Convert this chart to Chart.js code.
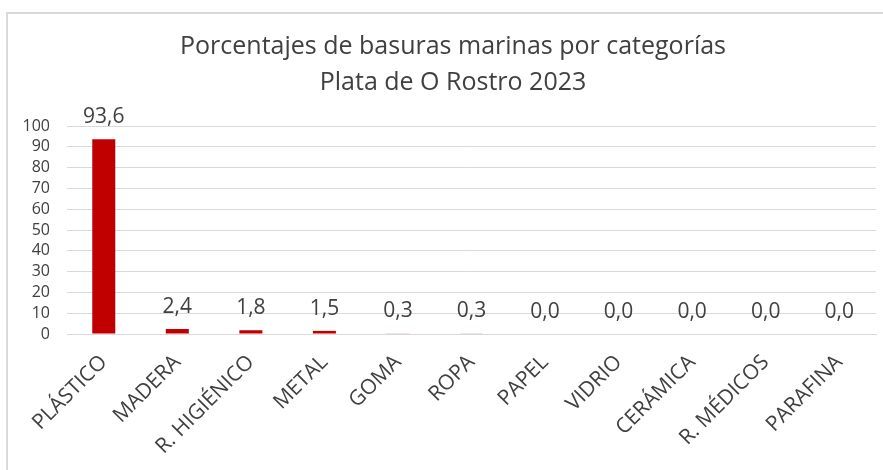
<!DOCTYPE html>
<html>
<head>
<meta charset="utf-8">
<script src="https://cdn.jsdelivr.net/npm/chart.js@4"></script>
<style>
  html, body { margin: 0; padding: 0; background: #fff; }
  #wrap { position: relative; width: 883px; height: 470px; }
  #frame { position: absolute; left: 6px; top: 12px; width: 900px; height: 500px;
           border-left: 2px solid #d9d9d9; border-top: 2px solid #d9d9d9; }
  canvas { position: absolute; left: 0; top: 0; }
</style>
</head>
<body>
<div id="wrap">
  <div id="frame"></div>
  <canvas id="myChart" width="883" height="470"></canvas>
</div>
<script>
// categories and values
var categories = ['PLÁSTICO', 'MADERA', 'R. HIGIÉNICO', 'METAL', 'GOMA', 'ROPA',
                  'PAPEL', 'VIDRIO', 'CERÁMICA', 'R. MÉDICOS', 'PARAFINA'];
var percentages = [93.6, 2.4, 1.8, 1.5, 0.3, 0.3, 0.0, 0.0, 0.0, 0.0, 0.0];
var titleLines = ['Porcentajes de basuras marinas por categorías', 'Plata de O Rostro 2023'];
var yTicks = { min: 0, max: 100, step: 10 };

var textColor = '#404040';
var fontFamily = '"Open Sans", sans-serif';

// title drawn by hand so the plot area can be placed freely
var titlePlugin = {
  id: 'excelTitle',
  afterDraw: function(chart) {
    var ctx = chart.ctx;
    ctx.save();
    ctx.fillStyle = textColor;
    ctx.font = '25px ' + fontFamily;
    ctx.textAlign = 'center';
    ctx.textBaseline = 'middle';
    titleLines.forEach(function(line, i) {
      ctx.fillText(line, 453, 47 + i * 36);
    });
    ctx.restore();
  }
};

// value labels above each bar, with comma decimals
var valueLabels = {
  id: 'valueLabels',
  afterDatasetsDraw: function(chart) {
    var ctx = chart.ctx;
    var meta = chart.getDatasetMeta(0);
    ctx.save();
    ctx.fillStyle = textColor;
    ctx.font = '21px ' + fontFamily;
    ctx.textAlign = 'center';
    ctx.textBaseline = 'alphabetic';
    meta.data.forEach(function(bar, i) {
      var txt = percentages[i].toFixed(1).replace('.', ',');
      ctx.fillText(txt, bar.x, bar.y - 16);
    });
    ctx.restore();
  }
};

var ctx = document.getElementById('myChart');
var myChart = new Chart(ctx, {
  type: 'bar',
  data: {
    labels: categories,
    datasets: [{
      data: percentages,
      backgroundColor: '#C00000',
      borderWidth: 0,
      barPercentage: 0.313,
      categoryPercentage: 1
    }]
  },
  options: {
    responsive: false,
    animation: false,
    events: [],
    layout: { padding: { left: 20, right: 7, top: 126, bottom: 0 } },
    plugins: {
      legend: { display: false },
      title: { display: false },
      tooltip: { enabled: false }
    },
    scales: {
      x: {
        grid: { display: false, drawTicks: false },
        border: { display: true, color: '#d9d9d9', width: 1 },
        ticks: {
          color: textColor,
          font: { family: fontFamily, size: 21 },
          minRotation: 45,
          maxRotation: 45,
          autoSkip: false,
          padding: 16
        },
        afterFit: function(scale) { scale.height = 136; }
      },
      y: {
        min: yTicks.min,
        max: yTicks.max,
        grid: { color: '#d9d9d9', lineWidth: 1, drawTicks: false },
        border: { display: false },
        ticks: {
          stepSize: yTicks.step,
          autoSkip: false,
          color: textColor,
          font: { family: fontFamily, size: 16 },
          padding: 17
        },
        afterFit: function(scale) { scale.width = 47; }
      }
    }
  },
  plugins: [titlePlugin, valueLabels]
});
</script>
</body>
</html>
